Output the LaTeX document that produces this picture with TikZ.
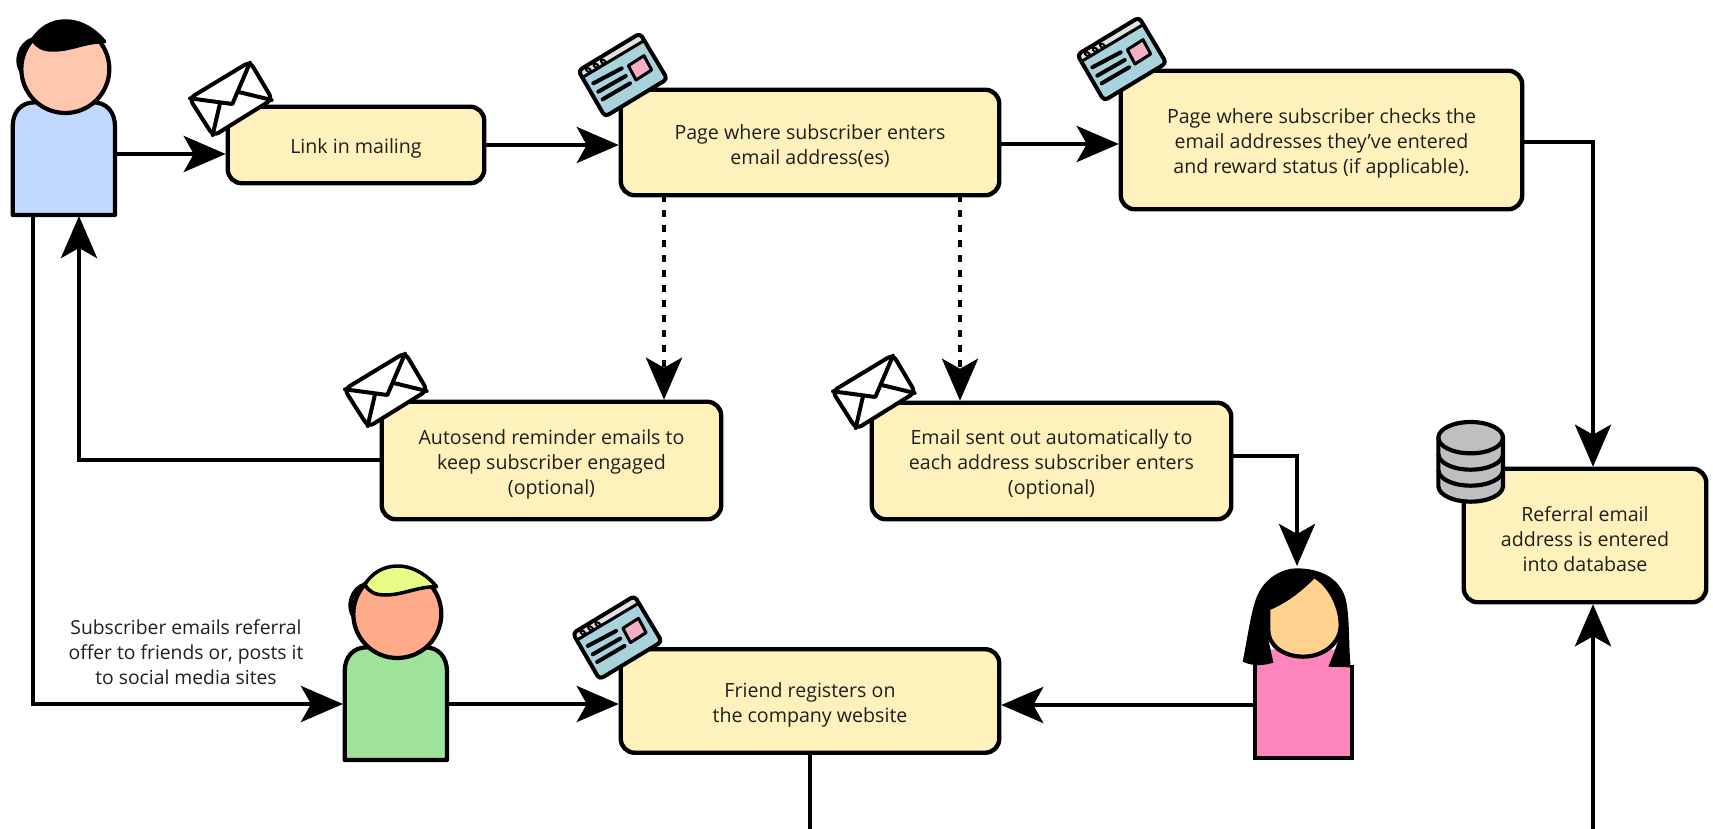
\documentclass[tikz,border=0pt]{standalone}
\usepackage{fontspec}
\setmainfont{Open Sans}
\usetikzlibrary{arrows.meta}
\definecolor{boxfill}{HTML}{FFF1BC}
\definecolor{txt}{HTML}{1F1F1F}
\definecolor{skinA}{RGB}{255,200,174}
\definecolor{skinB}{RGB}{255,171,138}
\definecolor{skinC}{RGB}{255,211,143}
\definecolor{shirtA}{RGB}{194,217,255}
\definecolor{shirtB}{RGB}{159,227,154}
\definecolor{shirtC}{RGB}{255,133,189}
\definecolor{hairB}{RGB}{232,252,134}
\definecolor{screen}{RGB}{169,211,220}
\definecolor{titlebar}{RGB}{226,226,226}
\definecolor{tile}{RGB}{243,175,196}
\definecolor{drum}{RGB}{191,191,191}
\newcommand{\st}{\rule{0pt}{22.5pt}}
\tikzset{
  flowbox/.style={draw=black,line width=4.4pt,fill=boxfill,rounded corners=14pt,inner sep=0pt,outer sep=0pt,align=center,text=txt,font=\fontsize{19.6}{25}\selectfont},
  ghost/.style={inner sep=0pt,outer sep=0pt},
  lbl/.style={inner sep=0pt,outer sep=0pt,align=center,text=txt,font=\fontsize{19.3}{25}\selectfont},
  flow/.style={line width=4.6pt,-{Stealth[length=42pt,width=36pt,inset=10pt]},shorten >=2pt},
  dotflow/.style={flow,dash pattern=on 7pt off 8pt},
  ink/.style={draw=black,line width=4.2pt,line join=round},
  thinink/.style={draw=black,line width=4pt,line join=round,line cap=round}
}
\newcommand{\manfig}[5]{%
  \begin{scope}[shift={(#1,#2)},x=0.33333pt,y=-0.33333pt]
    \path[ink,fill=#3] (74,630) -- (74,365) .. controls (74,320) and (100,292) .. (140,292) -- (315,292) .. controls (355,292) and (381,320) .. (381,365) -- (381,630) -- cycle;
    \path[ink,fill=#5] (135,103) .. controls (95,115) and (78,170) .. (103,203) -- (135,103) -- cycle;
    \path[ink,fill=#4] (232,192) circle[radius=132];
    \path[ink,fill=#5,line width=3.5pt] (135,103) .. controls (155,70) and (190,48) .. (232,48) .. controls (285,48) and (325,80) .. (350,110) .. controls (290,110) and (250,135) .. (195,135) .. controls (165,135) and (145,125) .. (135,103) -- cycle;
  \end{scope}}
\newcommand{\envfig}[2]{%
  \begin{scope}[shift={(#1,#2)},x=0.33333pt,y=-0.33333pt]
    \path[thinink,fill=white,rounded corners=6pt] (568,295) -- (750,185) -- (817,298) -- (640,408) -- cycle;
    \path[thinink] (570,295) -- (697,312) -- (750,188);
    \path[thinink] (660,310) -- (638,405);
    \path[thinink] (720,277) -- (815,300);
  \end{scope}}
\newcommand{\webfig}[2]{%
  \begin{scope}[shift={(#1,#2)},x=0.33333pt,y=-0.33333pt]
    \path[fill=screen,rounded corners=4pt] (55,212) -- (240,100) -- (322,237) -- (135,350) -- cycle;
    \path[fill=titlebar,rounded corners=3pt] (59,212) -- (240,104) -- (253,125) -- (70,232) -- cycle;
    \path[thinink,rounded corners=4pt] (55,212) -- (240,100) -- (322,237) -- (135,350) -- cycle;
    \path[draw=black,line width=3pt] (68,232) -- (252,122);
    \foreach \a/\b in {85/210,108/197,130/185}
      \path[draw=black,line width=2pt,fill=titlebar,rotate around={-31:(\a,\b)}] (\a,\b) ellipse[x radius=8,y radius=5];
    \path[thinink,line width=3pt,fill=tile] (205,197) -- (252,167) -- (275,210) -- (228,240) -- cycle;
    \path[thinink] (100,250) -- (185,205);
    \path[thinink] (115,275) -- (197,228);
    \path[thinink] (128,298) -- (210,250);
  \end{scope}}
\begin{document}
\begin{tikzpicture}[x=1pt,y=-1pt]
\useasboundingbox (0,0) rectangle (1713,829);
\fill[white] (0,0) rectangle (1713,829);
% boxes
\node[flowbox,minimum width=256.5pt,minimum height=76.5pt] (link) at (356,145) {\st Link in mailing};
\node[flowbox,minimum width=378.5pt,minimum height=105.5pt] (page) at (810,142.5) {\st Page where subscriber enters\\email address(es)};
\node[flowbox,minimum width=401.5pt,minimum height=138.5pt] (check) at (1321.5,140) {\st Page where subscriber checks the\\email addresses they’ve entered\\and reward status (if applicable).};
\node[flowbox,minimum width=339.5pt,minimum height=117.5pt] (auto) at (551.5,460.5) {\st Autosend reminder emails to\\keep subscriber engaged\\(optional)};
\node[flowbox,minimum width=359.5pt,minimum height=116.5pt] (mail) at (1051.5,461) {\st Email sent out automatically to\\each address subscriber enters\\(optional)};
\node[flowbox,minimum width=378.5pt,minimum height=103.5pt] (friend) at (810,701) {\st Friend registers on\\the company website};
\node[flowbox,minimum width=242.5pt,minimum height=133.5pt] (db) at (1585,535.5) {\st Referral email\\address is entered\\into database};
% invisible anchors for the figures
\node[ghost,minimum width=102pt,minimum height=112pt] (sub) at (63.5,158) {};
\node[ghost,minimum width=102pt,minimum height=113pt] (pal) at (396,703.5) {};
\node[ghost,minimum width=97pt,minimum height=93pt] (her) at (1303.5,711.5) {};
\coordinate (offA) at (810,829);
\coordinate (offB) at (1593,829);
\coordinate (herTop) at (1297,568);
% people
\manfig{-12}{5}{shirtA}{skinA}{black}
\manfig{320}{550}{shirtB}{skinB}{hairB}
\begin{scope}[shift={(1220,550)},x=0.33333pt,y=-0.33333pt]
  \path[fill=shirtC] (105,345) -- (397,345) -- (397,625) -- (105,625) -- cycle;
  \path[draw=black,line width=4pt] (105,345) -- (105,625) -- (397,625) -- (397,345);
  \path[fill=shirtC] (155,298) -- (345,298) -- (325,352) -- (110,352) -- cycle;
  \path[fill=black] (68,335) .. controls (85,250) and (95,170) .. (115,130) .. controls (140,80) and (190,55) .. (230,55) .. controls (280,55) and (350,70) .. (375,140) .. controls (390,190) and (385,280) .. (392,352) -- (325,350) -- (345,300) -- (355,270) -- (145,270) -- (152,300) -- (160,338) .. controls (135,345) and (105,352) .. (68,335) -- cycle;
  \path[ink,fill=skinC] (145,175) -- (145,240) .. controls (145,290) and (195,320) .. (250,320) .. controls (310,320) and (362,280) .. (362,225) .. controls (362,165) and (325,100) .. (282,78) .. controls (240,120) and (195,155) .. (145,175) -- cycle;
\end{scope}
% connectors
\draw[flow] (sub.east |- 0,154) -- (link.west |- 0,154);
\draw[flow] (link.east) -- (page.west |- link.east);
\draw[flow] (page.east |- 0,144) -- (check.west |- 0,144);
\draw[flow] (check.east |- 0,142) -| (1593,0 |- db.north);
\draw[flow] (offB) -- (1593,0 |- db.south);
\draw[dotflow] (664,0 |- page.south) -- (664,0 |- auto.north);
\draw[dotflow] (960,0 |- page.south) -- (960,0 |- mail.north);
\draw[flow] (auto.west |- 0,460) -| (79,0 |- sub.south);
\draw[flow] (mail.east |- 0,456) -| (herTop);
\draw[flow] (her.west |- 0,705) -- (friend.east |- 0,705);
\draw[flow] (pal.east |- 0,704) -- (friend.west |- 0,704);
\draw[flow] (33,0 |- sub.south) |- (pal.west |- 0,704);
\draw[line width=4.6pt] (friend.south) -- (offA);
% icons
\envfig{0}{0}
\envfig{155}{291}
\envfig{643}{293}
\webfig{560}{0}
\webfig{1059}{-16}
\webfig{554.5}{562.6}
\begin{scope}[shift={(1420,410)},x=0.33333pt,y=-0.33333pt]
  \path[ink,fill=drum] (55,83) -- (55,228) arc[start angle=180,end angle=0,x radius=97,y radius=47] -- (249,83) arc[start angle=0,end angle=-180,x radius=97,y radius=47] -- cycle;
  \path[ink] (55,83) arc[start angle=180,end angle=0,x radius=97,y radius=47];
  \path[ink] (55,132) arc[start angle=180,end angle=0,x radius=97,y radius=47];
  \path[ink] (55,180) arc[start angle=180,end angle=0,x radius=97,y radius=47];
\end{scope}
% label
\node[lbl] (note) at (186,652) {Subscriber emails referral\\offer to friends or, posts it\\to social media sites};
\end{tikzpicture}
\end{document}
